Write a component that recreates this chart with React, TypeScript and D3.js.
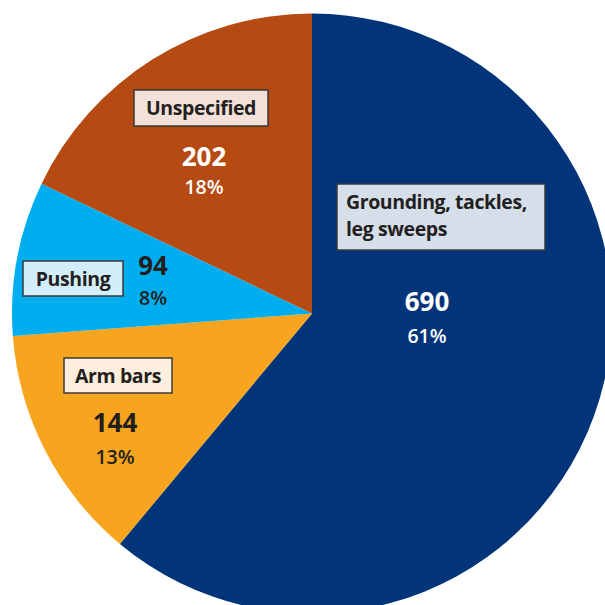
import React from "react";
import * as d3 from "d3";

const categories = ["Grounding, tackles, leg sweeps", "Arm bars", "Pushing", "Unspecified"];
const values = [690, 144, 94, 202];
const percents = ["61%", "13%", "8%", "18%"];
const labelLines = [["Grounding, tackles,", "leg sweeps"], ["Arm bars"], ["Pushing"], ["Unspecified"]];

const sliceColors = ["#02347A", "#F7A51E", "#00AEEF", "#B54A13"];
const boxFills = ["#D6DEE9", "#FDEEDD", "#D3EEFB", "#F3E0D9"];
const valueColors = ["#FFFFFF", "#231F20", "#231F20", "#FFFFFF"];

// label layout (box position, number position) per slice
const layout = [
  { box: [337, 184, 208, 66], textX: 346, textY: [209, 236], anchor: "start", num: [427, 311], pct: [427, 343] },
  { box: [64, 358, 108, 35], textX: 118, textY: [383], anchor: "middle", num: [115, 432], pct: [115, 464] },
  { box: [23, 261, 100, 35], textX: 73, textY: [286], anchor: "middle", num: [153, 275], pct: [153, 305] },
  { box: [134, 90, 134, 36], textX: 201, textY: [115], anchor: "middle", num: [204, 166], pct: [204, 194] },
];

export default function App() {
  const W = 605, H = 605;
  const cx = 312, cy = 313.5, r = 300;
  const pie = d3.pie<number>().sort(null).value((d) => d);
  const arcs = pie(values);
  const arc = d3.arc<d3.PieArcDatum<number>>().innerRadius(0).outerRadius(r);
  const font = "'Open Sans', 'Noto Sans', sans-serif";
  return (
    <svg width={W} height={H} style={{ position: "absolute", left: 0, top: 0, background: "#fff" }} fontFamily={font}>
      <g transform={`translate(${cx},${cy})`}>
        {arcs.map((a, i) => (
          <path key={i} d={arc(a) || ""} fill={sliceColors[i]} />
        ))}
      </g>
      {layout.map((L, i) => (
        <g key={i}>
          <rect x={L.box[0]} y={L.box[1]} width={L.box[2]} height={L.box[3]} fill={boxFills[i]} stroke="#3a3a3a" strokeWidth={1.5} />
          {labelLines[i].map((line, j) => (
            <text key={j} x={L.textX} y={L.textY[j]} textAnchor={L.anchor as any} fontSize={19.5} fontWeight={700} fill="#231F20" letterSpacing={-0.4}>
              {line}
            </text>
          ))}
          <text x={L.num[0]} y={L.num[1]} textAnchor="middle" fontSize={26} fontWeight={700} fill={valueColors[i]}>
            {values[i]}
          </text>
          <text x={L.pct[0]} y={L.pct[1]} textAnchor="middle" fontSize={19.5} fontWeight={600} fill={valueColors[i]}>
            {percents[i]}
          </text>
        </g>
      ))}
    </svg>
  );
}
